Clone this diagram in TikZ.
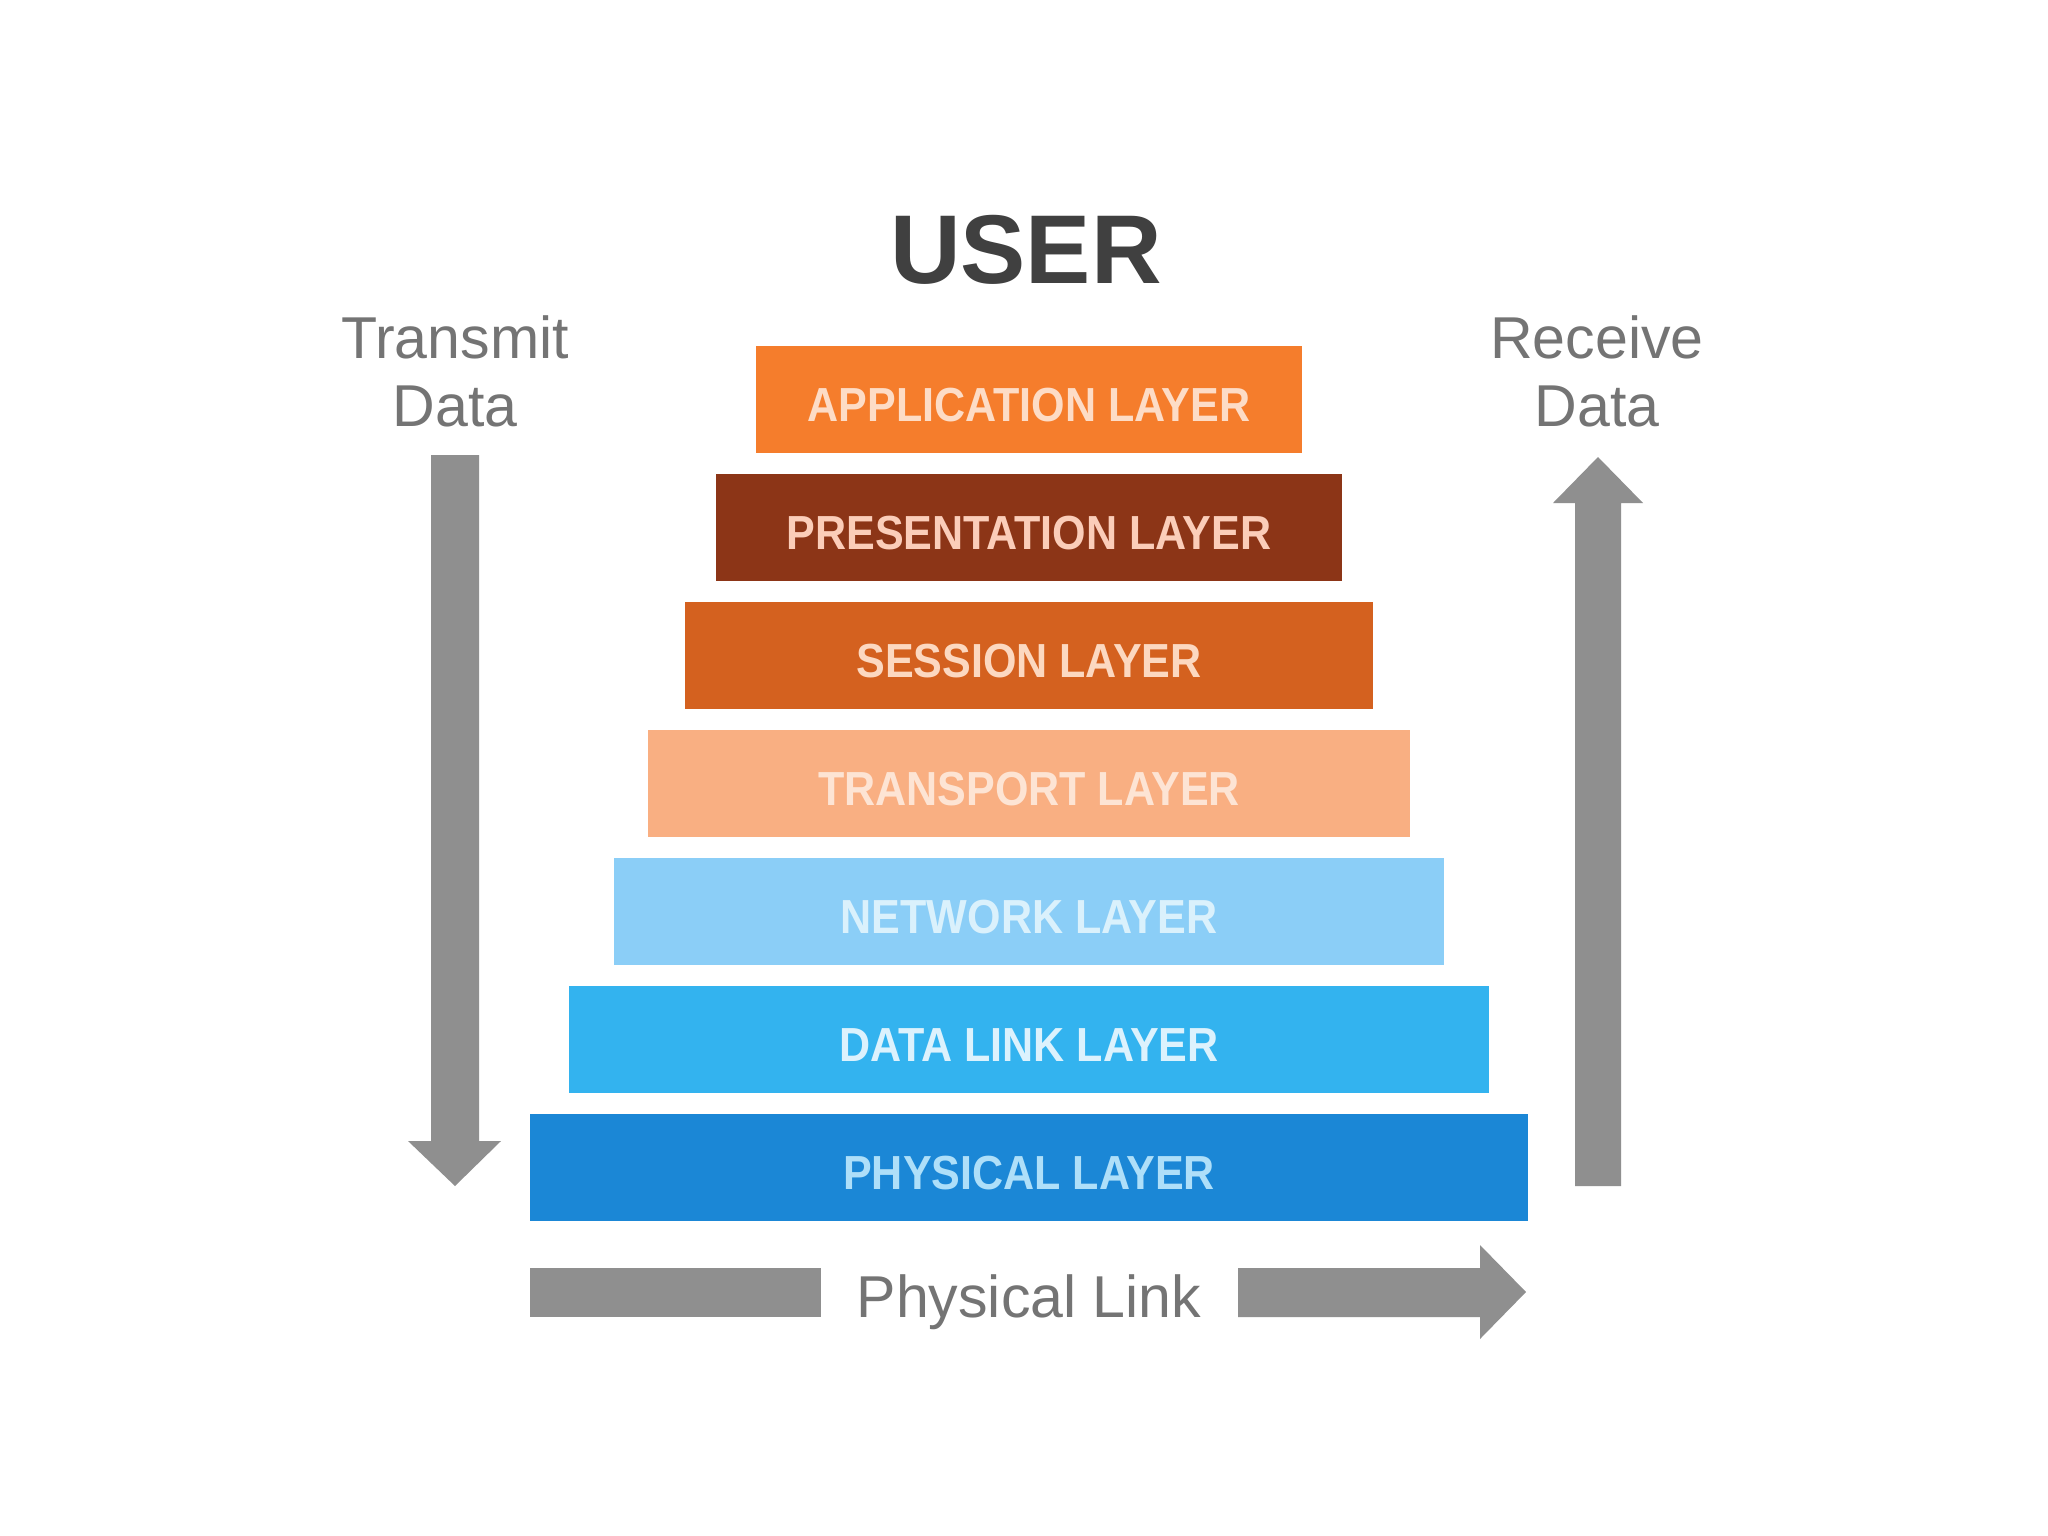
\documentclass[tikz,border=0pt]{standalone}
\usepackage{fontspec}
\setmainfont{Liberation Sans}
\newfontfamily\layerfont[FakeStretch=0.9]{Liberation Sans}
\definecolor{appC}{HTML}{F57D2C}
\definecolor{appT}{HTML}{FDDCC6}
\definecolor{preC}{HTML}{8C3517}
\definecolor{preT}{HTML}{FBCDB9}
\definecolor{sesC}{HTML}{D4611F}
\definecolor{sesT}{HTML}{FCD8C0}
\definecolor{traC}{HTML}{F9AF82}
\definecolor{traT}{HTML}{FDE4D4}
\definecolor{netC}{HTML}{8BCEF7}
\definecolor{netT}{HTML}{DAF1FC}
\definecolor{dlkC}{HTML}{33B3EF}
\definecolor{dlkT}{HTML}{DCF2FD}
\definecolor{phyC}{HTML}{1B87D6}
\definecolor{phyT}{HTML}{AEDFF9}
\definecolor{arrowgray}{HTML}{8F8F8F}
\definecolor{labelgray}{HTML}{747474}
\definecolor{usergray}{HTML}{404040}
\tikzset{
  layerbox/.style={rectangle, inner sep=0pt, minimum height=1.07cm,
    text height=0.44cm, text depth=0cm,
    font=\layerfont\bfseries\fontsize{13.6pt}{16pt}\selectfont},
  sidelabel/.style={align=center, text=labelgray, inner sep=0pt,
    font=\fontsize{16.8pt}{19.3pt}\selectfont},
  blockarrow/.style={fill=arrowgray, draw=none}
}
\begin{document}
\begin{tikzpicture}[x=0.01cm, y=-0.01cm]
\useasboundingbox (0,0) rectangle (2048,1536);
\fill[white] (0,0) rectangle (2048,1536);

% title
\node[anchor=base, text=usergray, inner sep=0pt,
  font=\bfseries\fontsize{27.8pt}{30pt}\selectfont] (user) at (1026,283) {USER};

% layers
\node[layerbox, fill=appC, text=appT, minimum width=5.45cm] (app) at (1029,399.5) {APPLICATION LAYER};
\node[layerbox, fill=preC, text=preT, minimum width=6.25cm] (pre) at (1029,527.5) {PRESENTATION LAYER};
\node[layerbox, fill=sesC, text=sesT, minimum width=6.87cm] (ses) at (1029,655.5) {SESSION LAYER};
\node[layerbox, fill=traC, text=traT, minimum width=7.61cm] (tra) at (1029,783.5) {TRANSPORT LAYER};
\node[layerbox, fill=netC, text=netT, minimum width=8.30cm] (net) at (1029,911.5) {NETWORK LAYER};
\node[layerbox, fill=dlkC, text=dlkT, minimum width=9.20cm] (dlk) at (1029,1039.5) {DATA LINK LAYER};
\node[layerbox, fill=phyC, text=phyT, minimum width=9.98cm] (phy) at (1029,1167.5) {PHYSICAL LAYER};

% side labels
\node[sidelabel] (tx) at (455,371) {Transmit\\Data};
\node[sidelabel] (rx) at (1597,371) {Receive\\Data};

% transmit arrow (down)
\coordinate (txtop) at (455,455);
\coordinate (txtip) at (455,1186);
\fill[blockarrow] (431,455) -- (479,455) -- (479,1141) -- (501,1141) -- (txtip)
  -- (408,1141) -- (431,1141) -- cycle;

% receive arrow (up)
\coordinate (rxbot) at (1598,1186);
\coordinate (rxtip) at (1598,457);
\fill[blockarrow] (1575,1186) -- (1621,1186) -- (1621,503) -- (1643,503) -- (rxtip)
  -- (1553,503) -- (1575,503) -- cycle;

% physical link
\node[anchor=base, inner sep=0pt, text=labelgray,
  font=\fontsize{16.8pt}{19pt}\selectfont] (plink) at (1029,1317) {Physical Link};
\fill[blockarrow] (530,1268) rectangle (821,1317);
\coordinate (pltip) at (1526,1292);
\fill[blockarrow] (1238,1268) -- (1480,1268) -- (1480,1245) -- (pltip)
  -- (1480,1339) -- (1480,1317) -- (1238,1317) -- cycle;
\end{tikzpicture}
\end{document}
